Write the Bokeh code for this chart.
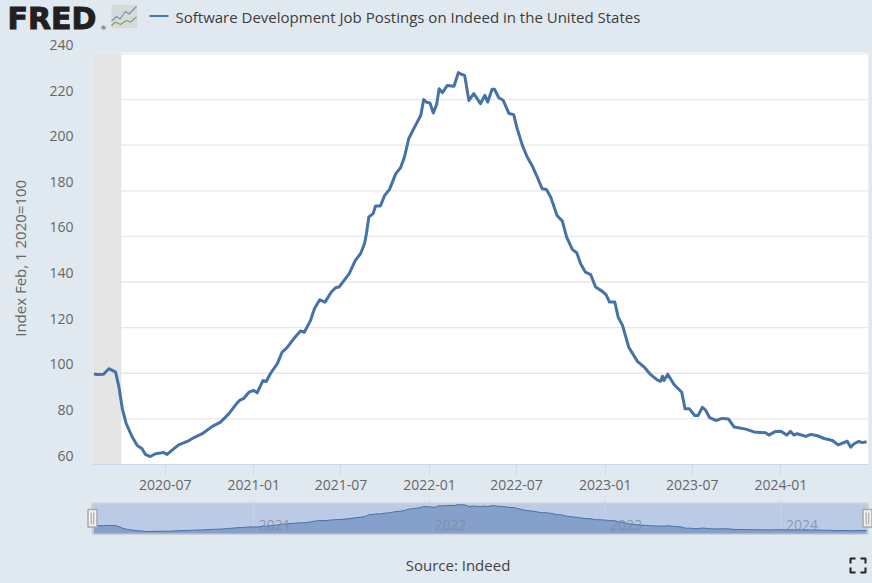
import numpy as np
import pandas as pd
from bokeh.core.properties import value
from bokeh.embed import file_html
from bokeh.models import FixedTicker, LinearAxis, Range1d
from bokeh.plotting import figure
from bokeh.resources import INLINE

# ---- data -----------------------------------------------------------------
series_name = "Software Development Job Postings on Indeed in the United States"
y_title = "Index Feb, 1 2020=100"
source_text = "Source: Indeed"
series_start = "2020-02-03"
day_offsets = [1,8,21,32,38,46,53,60,68,80,91,101,108,118,129,139,145,153,164,177,195,208,226,247,264,281,299,305,312,323,
333,340,352,359,368,382,392,402,416,430,438,451,459,470,481,494,503,510,531,544,555,563,567,572,581,586,596,605,615,628,
638,646,655,667,680,686,692,699,706,713,718,725,735,749,758,764,771,780,790,804,813,819,828,833,842,851,863,873,880,891,
901,911,922,932,941,950,963,974,983,995,1004,1012,1022,1033,1043,1057,1065,1072,1083,1090,1099,1112,1130,1144,1157,1171,1178,1182,1185,1193,
1206,1222,1229,1238,1249,1256,1265,1272,1280,1293,1306,1319,1331,1355,1372,1396,1403,1417,1428,1440,1448,1455,1462,1480,1490,1504,1518,1535,1547,1566,
1573,1580,1590,1597,1606]
index_values = [99.7,99.5,99.6,102.0,101.4,100.5,93.9,84.4,77.9,72.3,68.3,66.9,64.4,63.5,64.7,65.0,65.3,64.4,66.4,68.6,70.1,71.7,73.5,76.7,78.6,82.2,87.1,88.3,88.9,91.7,
92.5,91.4,96.8,96.4,100.0,104.2,109.3,111.2,115.1,118.5,118.0,123.2,128.3,132.2,131.2,135.6,137.5,137.8,143.6,149.5,152.5,156.8,161.2,168.5,170.0,173.3,173.3,178.0,180.6,187.5,
190.1,194.8,202.9,207.9,213.1,220.0,218.8,218.5,214.1,217.9,224.7,223.0,226.2,225.8,231.8,231.1,230.6,219.6,222.6,218.2,221.8,218.9,224.5,224.5,220.8,219.7,213.9,213.4,207.4,199.9,
194.8,191.1,186.0,180.9,180.6,177.2,169.2,166.7,159.7,154.2,152.8,148.0,144.3,143.2,137.8,135.9,134.4,131.2,131.2,124.6,121.0,111.4,105.2,102.7,99.5,97.1,96.5,98.7,96.8,99.6,
95.1,91.7,84.4,84.4,81.5,81.5,85.1,83.7,80.5,79.3,80.2,80.0,76.4,75.5,74.3,73.9,72.9,74.5,74.6,72.9,74.5,72.9,73.5,72.3,73.2,72.6,71.4,70.5,68.6,70.2,
67.6,69.1,70.1,69.6,70.0]
y_ticks = [60,80,100,120,140,160,180,200,220,240]
x_ticks = ["2020-07-01","2021-01-01","2021-07-01","2022-01-01","2022-07-01","2023-01-01","2023-07-01","2024-01-01"]
x_tick_labels = ["2020-07","2021-01","2021-07","2022-01","2022-07","2023-01","2023-07","2024-01"]
nav_years = ["2021-01-01","2022-01-01","2023-01-01","2024-01-01"]
nav_year_labels = ["2021","2022","2023","2024"]
recession = ["2020-02-01","2020-04-01"]
view_start, view_end = "2020-02-01","2024-07-01"

# ---- styles ----------------------------------------------------------------
BG = "#e1e9f0"; LINE = "#4572a7"; TXT = "#666666"; FONT = "Open Sans"
dates = pd.to_datetime(series_start) + pd.to_timedelta(day_offsets, unit="D")
to_ms = lambda s: pd.Timestamp(s).timestamp() * 1000
t0, t1 = to_ms(view_start), to_ms(view_end)
FRAME_L, FRAME_R = 92, 868
ms_per_px = (t1 - t0) / (FRAME_R - FRAME_L)
PX_PER_UNIT = 2.281
Y_TOP = 240.6                       # value at the top of the white plot area
Y_FRAME_TOP = 60 + (464 - 40) / PX_PER_UNIT   # frame reaches above the white area, for the 240 label
LABEL_SHIFT = 9 / PX_PER_UNIT       # tick labels sit above their grid lines

def chrome_fig(h, top):
    f = figure(width=872, height=h, output_backend="svg", toolbar_location=None,
               x_range=Range1d(0, 872), y_range=Range1d(top + h, top),
               min_border=0, outline_line_color=None,
               background_fill_color=BG, border_fill_color=BG)
    f.axis.visible = False
    f.grid.visible = False
    return f

# ---- header ----------------------------------------------------------------
h = chrome_fig(36, 0)
h.text([7], [17.6], text=["FRED"], text_font=value("DejaVu Sans"), text_font_style="bold",
       text_font_size="30px", text_color="#231f20", text_baseline="middle",
       text_outline_color="#231f20")
h.text([100], [27], text=["®"], text_font=value("DejaVu Sans"), text_font_size="6px",
       text_color="#231f20", text_baseline="middle")
h.quad(left=[110.5], right=[137], top=[4], bottom=[28], fill_color="#d6dadb", line_color="#e4e8ea")
h.line([111, 116, 119.5, 125, 128.5, 136], [20.5, 16, 18.5, 11, 13.5, 6], line_color="#6c93b9", line_width=1.2)
h.line([111, 115, 120, 126, 130, 136], [25, 21.5, 24, 20, 21.5, 16.5], line_color="#7fa34f", line_width=1.2)
h.line([149, 168], [15.5, 15.5], line_color=LINE, line_width=2)
h.text([175], [16], text=[series_name], text_font=value(FONT), text_font_size="15px",
       text_color="#3c3c3c", text_baseline="middle")

# ---- main chart ------------------------------------------------------------
p = figure(width=872, height=459, x_axis_type="datetime", output_backend="svg", toolbar_location=None,
           x_range=Range1d(pd.Timestamp(view_start), pd.Timestamp(view_end)), y_range=Range1d(60, Y_FRAME_TOP),
           min_border_left=FRAME_L, min_border_right=872 - FRAME_R, min_border_top=4, min_border_bottom=31,
           outline_line_color=None, background_fill_color=BG, border_fill_color=BG)
p.extra_y_ranges["labels"] = Range1d(60 - LABEL_SHIFT, Y_FRAME_TOP - LABEL_SHIFT)
p.yaxis.visible = False
p.xgrid.visible = False
p.ygrid.visible = False
p.quad(left=[pd.Timestamp(view_start)], right=[pd.Timestamp(view_end)], top=[Y_TOP], bottom=[60],
       fill_color="white", line_color=None)
p.multi_line([[t0, t1] for _ in y_ticks[1:]], [[v, v] for v in y_ticks[1:]], line_color="#e8e8e8", line_width=1.3)
p.quad(left=[pd.Timestamp(recession[0])], right=[pd.Timestamp(recession[1])], top=[Y_TOP], bottom=[60],
       fill_color="#e5e5e5", line_color=None)
p.line(dates, index_values, line_color=LINE, line_width=3, line_join="round")

ya = LinearAxis(y_range_name="labels")
ya.ticker = FixedTicker(ticks=y_ticks)
ya.axis_line_color = None
ya.major_tick_line_color = None
ya.minor_tick_line_color = None
ya.major_tick_out = 0
ya.major_label_standoff = 19
ya.major_label_text_color = TXT
ya.major_label_text_font = FONT
ya.major_label_text_font_size = "14px"
# trailing no-break spaces centre the title on the white plot area rather than on the taller frame
ya.axis_label = y_title + "\u00a0\u00a0\u00a0"
ya.axis_label_text_font = FONT
ya.axis_label_text_font_style = "normal"
ya.axis_label_text_font_size = "15px"
ya.axis_label_text_color = TXT
ya.axis_label_standoff = 16
p.add_layout(ya, "left")

xa = p.xaxis[0]
tick_ms = [to_ms(t) for t in x_ticks]
xa.ticker = FixedTicker(ticks=tick_ms)
xa.major_label_overrides = dict(zip(tick_ms, x_tick_labels))
xa.axis_line_color = "#ccd6eb"
xa.major_tick_line_color = "#ccd6eb"
xa.minor_tick_line_color = None
xa.major_tick_in = 0
xa.major_tick_out = 10
xa.major_label_standoff = 5
xa.major_label_text_color = TXT
xa.major_label_text_font = FONT
xa.major_label_text_font_size = "14px"

# ---- navigator and footer ---------------------------------------------------
NAV_TOP = 495
n = figure(width=872, height=583 - NAV_TOP, output_backend="svg", toolbar_location=None,
           x_range=Range1d(t0 - FRAME_L * ms_per_px, t0 + (872 - FRAME_L) * ms_per_px),
           y_range=Range1d(-261.5, 288.5), min_border=0, outline_line_color=None,
           background_fill_color=BG, border_fill_color=BG)
n.axis.visible = False
n.grid.visible = False
n.extra_x_ranges["px"] = Range1d(0, 872)
n.extra_y_ranges["px"] = Range1d(583, NAV_TOP)
px = dict(x_range_name="px", y_range_name="px")

n.quad(left=[92], right=[867], top=[503], bottom=[533.5], fill_color="#bccbe5",
       line_color="#cbd0d6", line_width=2, **px)
year_ms = [to_ms(t) for t in nav_years]
for t in year_ms:
    n.line([t, t], [260, 53], line_color="#c7d2e6", line_width=1)
base = np.full(len(dates), 51.0)
n.varea(x=dates, y1=base, y2=index_values, fill_color="#85a0ca")
n.line(dates, index_values, line_color=LINE, line_width=1)
n.text(year_ms, [524] * 4, text=nav_year_labels, x_offset=5, y_range_name="px",
       text_font=value(FONT), text_font_size="14px", text_color="#7f8a9c", text_alpha=0.8, text_baseline="middle")
for x0 in (92, 867):
    n.quad(left=[x0 - 4.5], right=[x0 + 4.5], top=[509], bottom=[526.5], fill_color="#f2f2f2",
           line_color="#a8a8a8", line_width=1.5, **px)
    n.multi_line([[x0 - 1.3, x0 - 1.3], [x0 + 1.3, x0 + 1.3]], [[512, 524], [512, 524]],
                 line_color="#999999", line_width=1, **px)
n.text([457.5], [564], text=[source_text], text_font=value(FONT), text_font_size="15px",
       text_color="#444444", text_align="center", text_baseline="middle", **px)
n.multi_line([[850, 850, 855], [860, 865, 865], [850, 850, 855], [860, 865, 865]],
             [[563, 558, 558], [558, 558, 563], [567, 572, 572], [572, 572, 567]],
             line_color="#222222", line_width=2, **px)

html = file_html((h, p, n), INLINE)
html = html.replace("</head>", "<style>html,body{margin:0;padding:0;background:#e1e9f0;overflow:hidden}</style></head>")
open("out.html", "w").write(html)
